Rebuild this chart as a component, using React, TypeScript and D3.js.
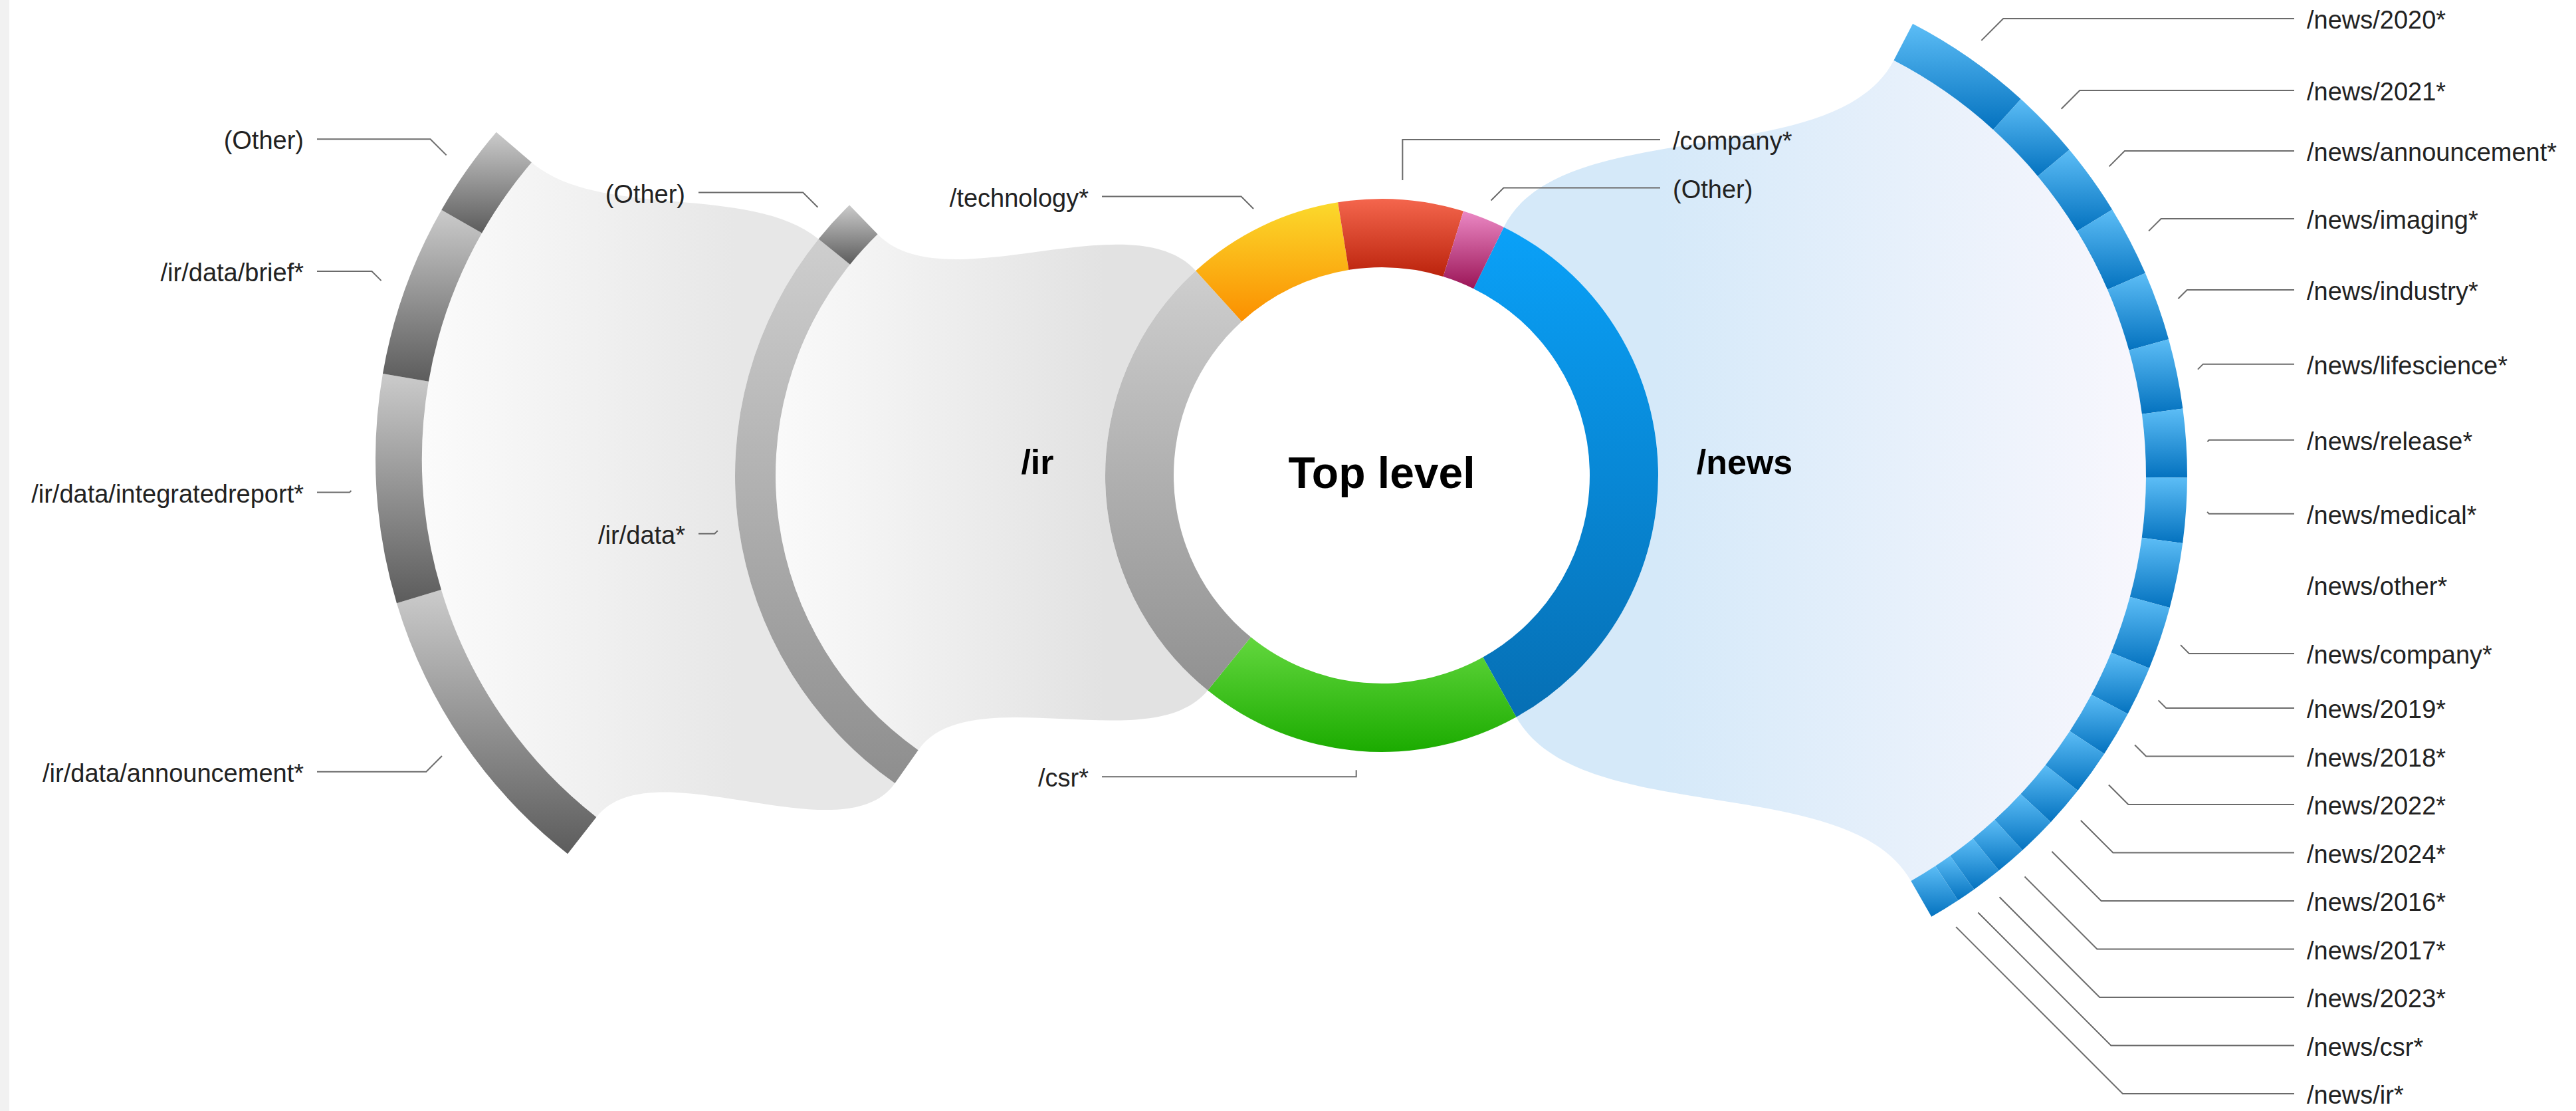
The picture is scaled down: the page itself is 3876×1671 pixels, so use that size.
import React from 'react';
import * as d3 from 'd3';

const WIDTH = 3876;
const HEIGHT = 1671;

// ---------------- data ----------------
const centerTitle = 'Top level';

const topCategories = ['/news*', '/csr*', '/ir*', '/technology*', '/company*', '(Other)'];
const topValues = [3460, 1890, 2740, 920, 730, 250];
const topExpanded = ['/news*', '/ir*'];
const topExpandedTitles = ['/news', '/ir'];

const irCategories = ['/ir/data*', '(Other)'];
const irValues = [2550, 190];
const irExpanded = ['/ir/data*'];

const irDataCategories = [
  '/ir/data/announcement*',
  '/ir/data/integratedreport*',
  '/ir/data/brief*',
  '(Other)',
];
const irDataValues = [970, 730, 550, 300];

const newsCategories = [
  '/news/2020*', '/news/2021*', '/news/announcement*', '/news/imaging*', '/news/industry*',
  '/news/lifescience*', '/news/release*', '/news/medical*', '/news/other*', '/news/company*',
  '/news/2019*', '/news/2018*', '/news/2022*', '/news/2024*', '/news/2016*', '/news/2017*',
  '/news/2023*', '/news/csr*', '/news/ir*',
];
const newsValues = [420, 223, 234, 228, 223, 225, 220, 209, 209, 203, 161, 147, 144, 132, 127, 99, 99, 62, 99];
const labelsWithoutConnector = ['/news/other*'];

// ---------------- layout / style ----------------
const DEG = Math.PI / 180;
const FONT = "'Liberation Sans', Arial, Helvetica, sans-serif";
const LABEL_GAP = 72.5;
const MIN_LABEL_Y = 26;
const MAX_LABEL_Y = 1645;

const DONUT = { cx: 2079, cy: 715, rIn: 313, rOut: 416, a0: 26.2, a1: 386.2, connOff: 29, labelOff: 44, labelDy: -5, lineXRight: 2498, lineXLeft: 1658 };
const NEWS_RING = { cx: 2526, cy: 715, rIn: 703, rOut: 765, a0: 27.4, a1: 150.2, connOff: 32, labelOff: 72, labelDy: 0, lineXRight: 3452, lineXLeft: 0 };
const IR_RING = { cx: 1672, cy: 715, rIn: 505, rOut: 566, a0: 215.1, a1: 315.9, connOff: 32, labelOff: 65, labelDy: 0, lineXRight: 0, lineXLeft: 1051 };
const IRDATA_RING = { cx: 1320, cy: 690, rIn: 685, rOut: 755, a0: 218.1, a1: 310.6, connOff: 38, labelOff: 80, labelDy: 0, lineXRight: 0, lineXLeft: 477 };

const TITLE_POS: Record<string, number> = { '/news': 2625, '/ir': 1561 };

const topColors: Record<string, [string, string]> = {
  '/news*': ['#0aa1f8', '#066fb4'],
  '/csr*': ['#63d73e', '#1bab00'],
  '/ir*': ['#cecece', '#919191'],
  '/technology*': ['#fbd92c', '#fb8f00'],
  '/company*': ['#f4664d', '#bb230c'],
  '(Other)': ['#eb88c4', '#9b1557'],
};
const newsColors: [string, string] = ['#5cbdf6', '#0472bf'];
const grayColors: [string, string] = ['#cbcbcb', '#5c5c5c'];
const grayExpandedColors: [string, string] = ['#cecece', '#8e8e8e'];

type Ring = typeof DONUT;
type Seg = { name: string; value: number; a0: number; a1: number };

function layoutRing(names: string[], values: number[], ring: Ring): Seg[] {
  const pie = d3
    .pie<number>()
    .sort(null)
    .value((d) => d)
    .startAngle(ring.a0 * DEG)
    .endAngle(ring.a1 * DEG);
  return pie(values).map((p, i) => ({ name: names[i], value: values[i], a0: p.startAngle, a1: p.endAngle }));
}

const polar = (cx: number, cy: number, r: number, a: number): [number, number] => [
  cx + r * Math.sin(a),
  cy - r * Math.cos(a),
];
const unit = (a: number): [number, number] => [Math.sin(a), -Math.cos(a)];

type Arcish = { cx: number; cy: number; r: number; a0: number; a1: number };

function fanPath(parent: Arcish, child: Arcish, k = 0.3) {
  const P0 = polar(parent.cx, parent.cy, parent.r, parent.a0);
  const P3 = polar(child.cx, child.cy, child.r, child.a0);
  const Q0 = polar(parent.cx, parent.cy, parent.r, parent.a1);
  const Q3 = polar(child.cx, child.cy, child.r, child.a1);
  const L1 = Math.hypot(P3[0] - P0[0], P3[1] - P0[1]) * k;
  const L2 = Math.hypot(Q3[0] - Q0[0], Q3[1] - Q0[1]) * k;
  const up0 = unit(parent.a0), uc0 = unit(child.a0), up1 = unit(parent.a1), uc1 = unit(child.a1);
  const P1 = [P0[0] + L1 * up0[0], P0[1] + L1 * up0[1]];
  const P2 = [P3[0] - L1 * uc0[0], P3[1] - L1 * uc0[1]];
  const Q2 = [Q3[0] - L2 * uc1[0], Q3[1] - L2 * uc1[1]];
  const Q1 = [Q0[0] + L2 * up1[0], Q0[1] + L2 * up1[1]];
  const lc = child.a1 - child.a0 > Math.PI ? 1 : 0;
  const lp = parent.a1 - parent.a0 > Math.PI ? 1 : 0;
  return (
    `M${P0[0]},${P0[1]}C${P1[0]},${P1[1]} ${P2[0]},${P2[1]} ${P3[0]},${P3[1]}` +
    `A${child.r},${child.r} 0 ${lc} 1 ${Q3[0]},${Q3[1]}` +
    `C${Q2[0]},${Q2[1]} ${Q1[0]},${Q1[1]} ${Q0[0]},${Q0[1]}` +
    `A${parent.r},${parent.r} 0 ${lp} 0 ${P0[0]},${P0[1]}Z`
  );
}

type Label = {
  key: string;
  name: string;
  side: 1 | -1;
  sx: number;
  sy: number;
  target: number;
  y: number;
  lineX: number;
  mid: number;
  connector: boolean;
};

function buildLabels(ringKey: string, ring: Ring, segs: Seg[], skip: string[]): Label[] {
  const labels: Label[] = [];
  segs.forEach((s, i) => {
    if (skip.includes(s.name)) return;
    const mid = (s.a0 + s.a1) / 2;
    const norm = ((mid % (2 * Math.PI)) + 2 * Math.PI) % (2 * Math.PI);
    const side: 1 | -1 = norm < Math.PI ? 1 : -1;
    const [sx, sy] = polar(ring.cx, ring.cy, ring.rOut + ring.connOff, mid);
    const target = polar(ring.cx, ring.cy, ring.rOut + ring.labelOff, mid)[1] + ring.labelDy;
    labels.push({
      key: `${ringKey}-${i}`,
      name: s.name,
      side,
      sx,
      sy,
      target,
      y: target,
      lineX: side === 1 ? ring.lineXRight : ring.lineXLeft,
      mid,
      connector: !labelsWithoutConnector.includes(s.name),
    });
  });
  // distribute per side, pushing labels away from the ring's horizontal centre line
  ([1, -1] as const).forEach((side) => {
    const group = labels.filter((l) => l.side === side);
    const above = group.filter((l) => l.target < ring.cy).sort((a, b) => b.target - a.target);
    const below = group.filter((l) => l.target >= ring.cy).sort((a, b) => a.target - b.target);
    let prev = Infinity;
    above.forEach((l) => {
      l.y = Math.min(l.target, prev - LABEL_GAP);
      prev = l.y;
    });
    let lim = MIN_LABEL_Y;
    for (let i = above.length - 1; i >= 0; i--) {
      above[i].y = Math.max(above[i].y, lim);
      lim = above[i].y + LABEL_GAP;
    }
    prev = above.length ? above[0].y : -Infinity;
    below.forEach((l) => {
      l.y = Math.max(l.target, prev + LABEL_GAP);
      prev = l.y;
    });
    lim = MAX_LABEL_Y;
    for (let i = below.length - 1; i >= 0; i--) {
      below[i].y = Math.min(below[i].y, lim);
      lim = below[i].y - LABEL_GAP;
    }
  });
  return labels;
}

export default function App() {
  const donutSegs = layoutRing(topCategories, topValues, DONUT);
  const newsSegs = layoutRing(newsCategories, newsValues, NEWS_RING);
  const irSegs = layoutRing(irCategories, irValues, IR_RING);
  const irDataSegs = layoutRing(irDataCategories, irDataValues, IRDATA_RING);

  const newsParent = donutSegs[topCategories.indexOf(topExpanded[0])];
  const irParent = donutSegs[topCategories.indexOf(topExpanded[1])];
  const irDataParent = irSegs[irCategories.indexOf(irExpanded[0])];

  const fans = [
    {
      key: 'news',
      d: fanPath(
        { cx: DONUT.cx, cy: DONUT.cy, r: DONUT.rOut, a0: newsParent.a0, a1: newsParent.a1 },
        { cx: NEWS_RING.cx, cy: NEWS_RING.cy, r: NEWS_RING.rIn, a0: NEWS_RING.a0 * DEG, a1: NEWS_RING.a1 * DEG }
      ),
      x1: DONUT.cx + DONUT.rOut,
      x2: NEWS_RING.cx + NEWS_RING.rIn,
      c: ['#d5e9f9', '#f8f7fd'],
    },
    {
      key: 'ir',
      d: fanPath(
        { cx: DONUT.cx, cy: DONUT.cy, r: DONUT.rOut, a0: irParent.a0, a1: irParent.a1 },
        { cx: IR_RING.cx, cy: IR_RING.cy, r: IR_RING.rIn, a0: IR_RING.a0 * DEG, a1: IR_RING.a1 * DEG }
      ),
      x1: DONUT.cx - DONUT.rOut,
      x2: IR_RING.cx - IR_RING.rIn,
      c: ['#e2e2e2', '#fafafa'],
    },
    {
      key: 'irdata',
      d: fanPath(
        { cx: IR_RING.cx, cy: IR_RING.cy, r: IR_RING.rOut, a0: irDataParent.a0, a1: irDataParent.a1 },
        { cx: IRDATA_RING.cx, cy: IRDATA_RING.cy, r: IRDATA_RING.rIn, a0: IRDATA_RING.a0 * DEG, a1: IRDATA_RING.a1 * DEG }
      ),
      x1: IR_RING.cx - IR_RING.rOut,
      x2: IRDATA_RING.cx - IRDATA_RING.rIn,
      c: ['#e7e7e7', '#fbfbfb'],
    },
  ];

  const arcGen = d3.arc<any>();

  const ringSpecs = [
    { key: 'donut', ring: DONUT, segs: donutSegs, color: (s: Seg) => topColors[s.name] },
    { key: 'news', ring: NEWS_RING, segs: newsSegs, color: () => newsColors },
    {
      key: 'ir',
      ring: IR_RING,
      segs: irSegs,
      color: (s: Seg) => (irExpanded.includes(s.name) ? grayExpandedColors : grayColors),
    },
    { key: 'irdata', ring: IRDATA_RING, segs: irDataSegs, color: () => grayColors },
  ];

  const labels = [
    ...buildLabels('donut', DONUT, donutSegs, topExpanded),
    ...buildLabels('news', NEWS_RING, newsSegs, []),
    ...buildLabels('ir', IR_RING, irSegs, []),
    ...buildLabels('irdata', IRDATA_RING, irDataSegs, []),
  ];

  return (
    <svg
      width={WIDTH}
      height={HEIGHT}
      viewBox={`0 0 ${WIDTH} ${HEIGHT}`}
      style={{ position: 'absolute', left: 0, top: 0, background: '#ffffff' }}
      fontFamily={FONT}
    >
      <defs>
        {fans.map((f) => (
          <linearGradient key={f.key} id={`fan-${f.key}`} gradientUnits="userSpaceOnUse" x1={f.x1} y1={0} x2={f.x2} y2={0}>
            <stop offset="0" stopColor={f.c[0]} />
            <stop offset="1" stopColor={f.c[1]} />
          </linearGradient>
        ))}
        {ringSpecs.map((rs) =>
          rs.segs.map((s, i) => {
            const c = rs.color(s);
            return (
              <linearGradient key={`${rs.key}-${i}`} id={`seg-${rs.key}-${i}`} x1="0" y1="0" x2="0" y2="1">
                <stop offset="0" stopColor={c[0]} />
                <stop offset="1" stopColor={c[1]} />
              </linearGradient>
            );
          })
        )}
      </defs>

      <rect x={0} y={0} width={WIDTH} height={HEIGHT} fill="#ffffff" />
      <rect x={0} y={0} width={14} height={HEIGHT} fill="#f1f1f1" />

      {fans.map((f) => (
        <path key={f.key} d={f.d} fill={`url(#fan-${f.key})`} />
      ))}

      {ringSpecs.map((rs) => (
        <g key={rs.key} transform={`translate(${rs.ring.cx},${rs.ring.cy})`}>
          {rs.segs.map((s, i) => (
            <path
              key={i}
              d={arcGen({ innerRadius: rs.ring.rIn, outerRadius: rs.ring.rOut, startAngle: s.a0, endAngle: s.a1 }) as string}
              fill={`url(#seg-${rs.key}-${i})`}
            />
          ))}
        </g>
      ))}

      {labels.map((l) => {
        const dy = l.y - l.sy;
        const dx = Math.abs(Math.sin(l.mid)) > 0.3 ? Math.abs(dy) : 0;
        const ex = l.sx + l.side * dx;
        return (
          <g key={l.key}>
            {l.connector && (
              <path
                d={`M${l.sx},${l.sy}L${ex},${l.y}L${l.lineX},${l.y}`}
                fill="none"
                stroke="#6b6b6b"
                strokeWidth={2}
              />
            )}
            <text
              x={l.lineX + (l.side === 1 ? 19 : -20)}
              y={l.y}
              dy="0.4em"
              textAnchor={l.side === 1 ? 'start' : 'end'}
              fontSize={38}
              fill="#222222"
            >
              {l.name}
            </text>
          </g>
        );
      })}

      <text x={DONUT.cx} y={734} textAnchor="middle" fontSize={66} fontWeight="bold" fill="#000">
        {centerTitle}
      </text>
      {topExpandedTitles.map((t) => (
        <text key={t} x={TITLE_POS[t]} y={713} textAnchor="middle" fontSize={52} fontWeight="bold" fill="#000">
          {t}
        </text>
      ))}
    </svg>
  );
}
